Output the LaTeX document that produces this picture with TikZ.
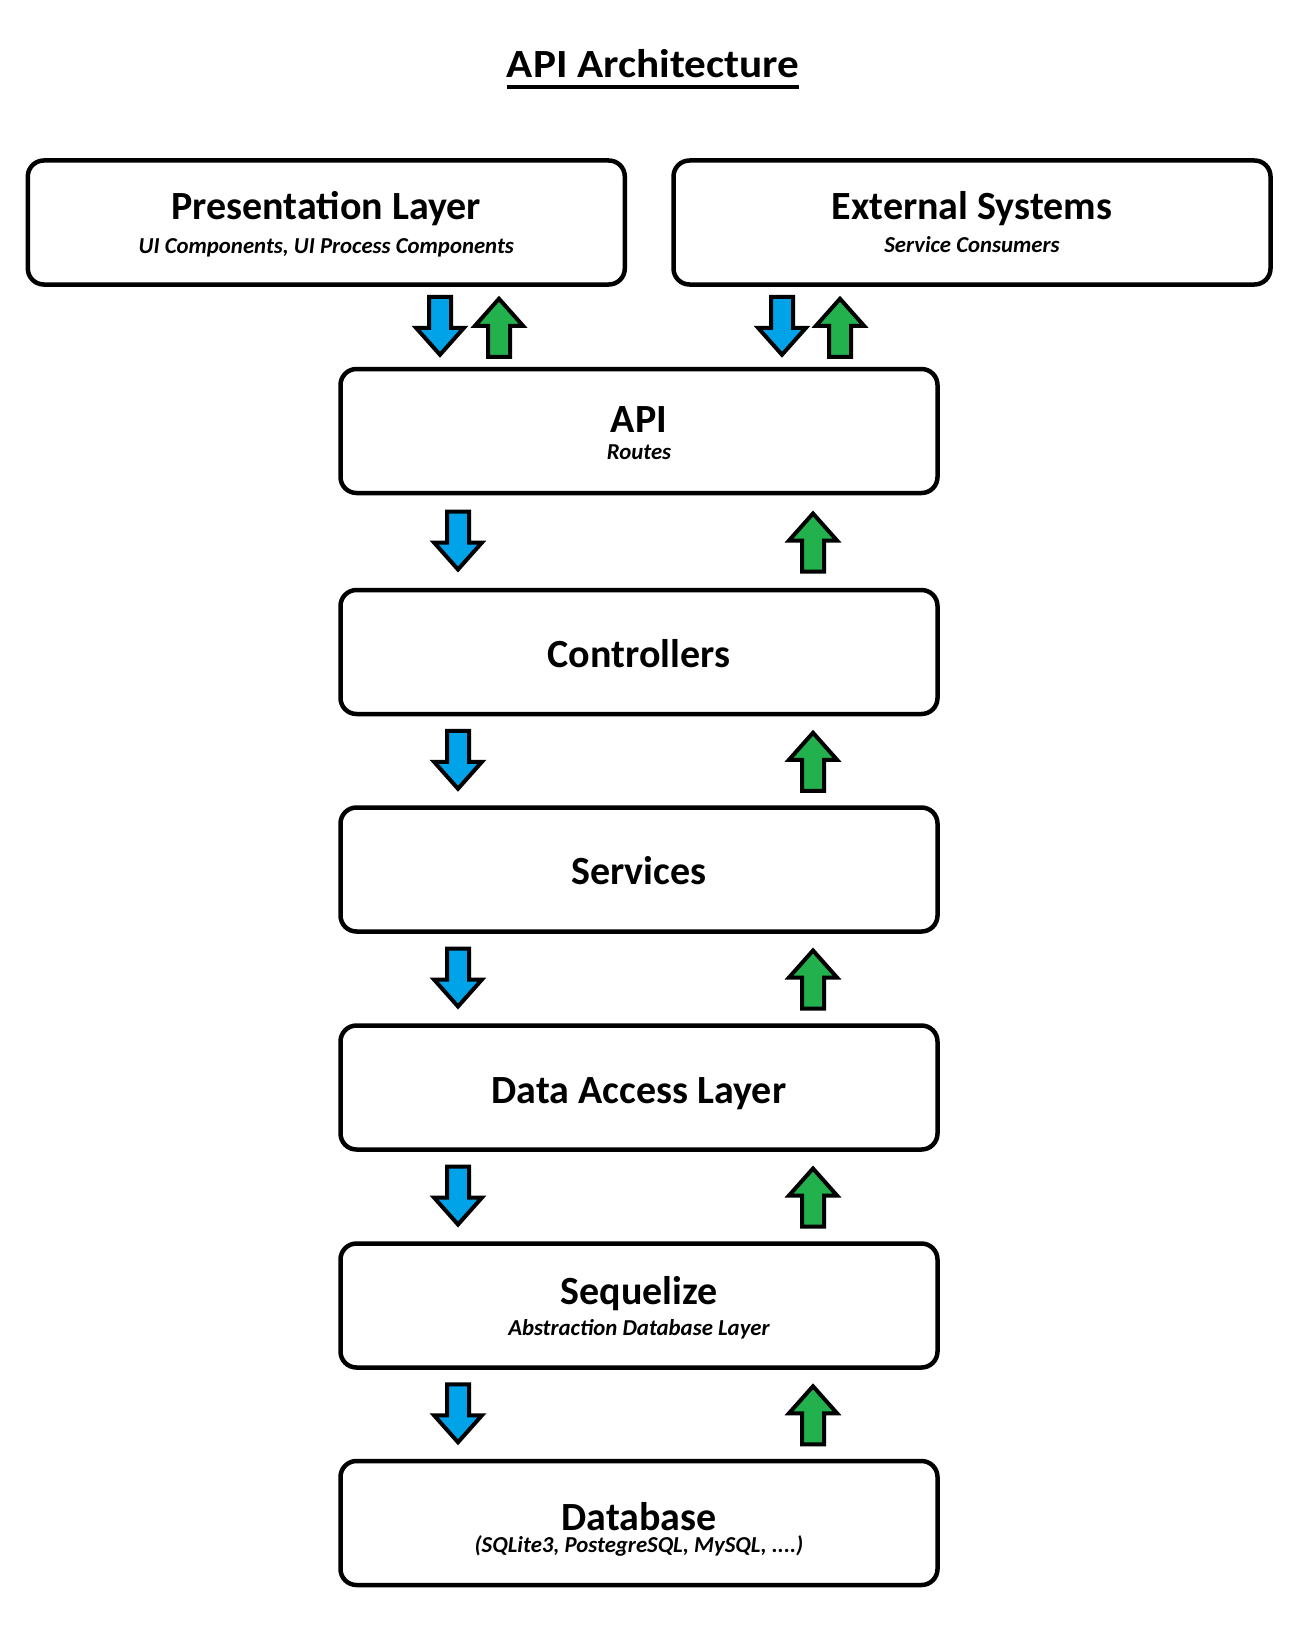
\documentclass[tikz,border=0pt]{standalone}
\usepackage{fontspec}
\setmainfont{Carlito}
\newfontfamily\titlefont[FakeStretch=1.08]{Carlito}
\usetikzlibrary{calc}
\definecolor{pblue}{HTML}{00A2E8}
\definecolor{pgreen}{HTML}{22B14C}
\begin{document}
\begin{tikzpicture}[x=1pt,y=-1pt,
  layer/.style={draw=black, line width=4.5pt, rounded corners=16pt, fill=white, minimum width=597pt, minimum height=124pt, inner sep=0pt},
  maintext/.style={inner sep=0pt, anchor=base, font=\fontsize{40}{44}\selectfont\bfseries},
  subtext/.style={inner sep=0pt, anchor=base, font=\fontsize{22.8}{26}\selectfont\bfseries\itshape},
  blk/.style={draw=black, line width=4pt, line join=miter},
  downblk/.pic={\draw[blk, fill=pblue] (-11,-30) -- (11,-30) -- (11,1) -- (24,1) -- (0,28) -- (-24,1) -- (-11,1) -- cycle;},
  upblk/.pic={\draw[blk, fill=pgreen] (-11,30) -- (11,30) -- (11,-1) -- (24,-1) -- (0,-28) -- (-24,-1) -- (-11,-1) -- cycle;},
]
\useasboundingbox (0,0) rectangle (1301,1640);
\fill[white] (0,0) rectangle (1301,1640);

% title
\node[inner sep=0pt, anchor=base, font=\titlefont\fontsize{40}{44}\selectfont\bfseries] (title) at (653,78) {API Architecture};
\draw[line width=3.5pt] ([yshift=-9pt]title.base west) -- ([yshift=-9pt]title.base east);

% layers
\node[layer] (pres) at (326.3,222.5) {};
\node[layer] (ext) at (972,222.5) {};
\node[layer] (api) at (639,431) {};
\node[layer] (ctrl) at (639,652) {};
\node[layer] (serv) at (639,869.5) {};
\node[layer] (dal) at (639,1087.5) {};
\node[layer] (seq) at (639,1305.5) {};
\node[layer] (db) at (639,1523) {};

% labels
\node[maintext] (pres-t) at ($(pres.center)+(0,-3)$) {Presentation Layer};
\node[subtext] (pres-s) at ($(pres.center)+(0,31)$) {UI Components, UI Process Components};
\node[maintext] (ext-t) at ($(ext.center)+(0,-3)$) {External Systems};
\node[subtext] (ext-s) at ($(ext.center)+(0,29.5)$) {Service Consumers};
\node[maintext] (api-t) at ($(api.center)+(0,1.5)$) {API};
\node[subtext] (api-s) at ($(api.center)+(0,28)$) {Routes};
\node[maintext] (ctrl-t) at ($(ctrl.center)+(0,15)$) {Controllers};
\node[maintext] (serv-t) at ($(serv.center)+(0,15)$) {Services};
\node[maintext] (dal-t) at ($(dal.center)+(0,15.5)$) {Data Access Layer};
\node[maintext] (seq-t) at ($(seq.center)+(0,-1.5)$) {Sequelize};
\node[subtext] (seq-s) at ($(seq.center)+(0,29.5)$) {Abstraction Database Layer};
\node[maintext] (db-t) at ($(db.center)+(0,7)$) {Database};
\node[subtext] (db-s) at ($(db.center)+(0,29)$) {(SQLite3, PostegreSQL, MySQL, ....)};

% top arrows
\path ($(pres.south)!0.5!(api.north)$) coordinate (g0);
\pic at ([xshift=-199pt]g0 -| api.center) {downblk};
\pic at ([xshift=-140pt]g0 -| api.center) {upblk};
\pic at ([xshift=143pt]g0 -| api.center) {downblk};
\pic at ([xshift=201pt]g0 -| api.center) {upblk};

% middle arrows
\foreach \u/\l in {api/ctrl, ctrl/serv, serv/dal, dal/seq, seq/db}{
  \path ($(\u.south)!0.5!(\l.north)$) coordinate (m);
  \pic at ([xshift=-181pt]m) {downblk};
  \pic at ([xshift=174pt]m) {upblk};
}
\end{tikzpicture}
\end{document}
